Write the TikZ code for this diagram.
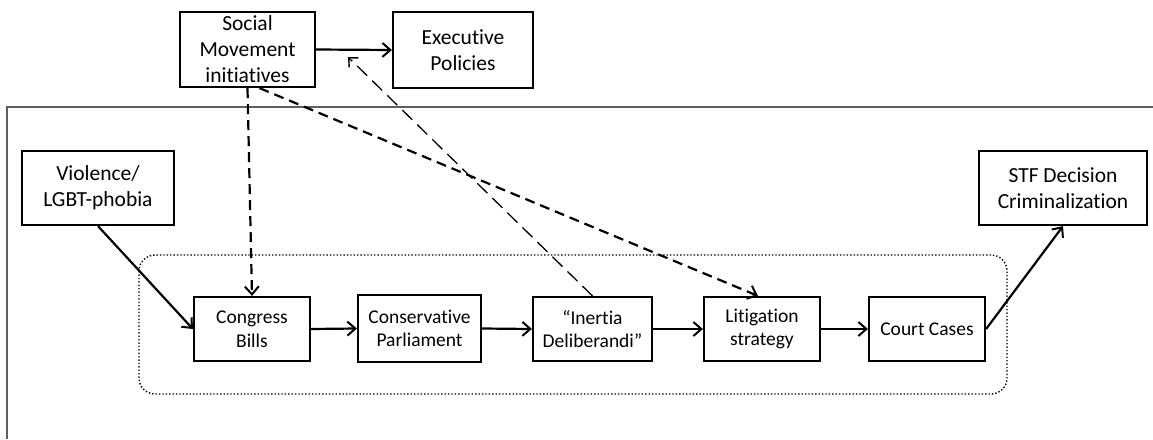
\documentclass[tikz,border=0pt]{standalone}
\usepackage{fontspec}
\setmainfont{Carlito}[Ligatures={NoCommon}]
\usetikzlibrary{arrows.meta}
\definecolor{framegray}{RGB}{95,95,95}
\tikzset{
  box/.style={draw=black, line width=2.2pt, rectangle, align=center, inner sep=0pt},
  big/.style={box, font=\fontsize{21.5}{26}\selectfont},
  small/.style={box, font=\fontsize{19.5}{23.5}\selectfont},
  arr/.style={line width=2.2pt, -{Straight Barb[length=8pt,width=14pt,line width=2pt]}},
  darr/.style={arr, dash pattern=on 10pt off 6pt},
  tarr/.style={line width=1.3pt, dash pattern=on 14pt off 7pt, -{Straight Barb[length=7pt,width=13pt,line width=1.4pt]}},
  frameline/.style={draw=framegray, line width=1.5pt},
  group/.style={draw=black, line width=1.4pt, dotted, rounded corners=16pt}
}
\begin{document}
\begin{tikzpicture}[x=1pt,y=-1pt]
\useasboundingbox (0,0) rectangle (1153,439);
\draw[frameline] (1153,107) -- (7,107) -- (7,439);
\draw[group] (139,255) rectangle (1007,394);

\node[big, minimum width=135pt, minimum height=75pt] (SM) at (247.5,49.5) {Social\\Movement\\initiatives};
\node[big, minimum width=140pt, minimum height=76pt] (EP) at (463,50) {Executive\\Policies};
\node[big, minimum width=152pt, minimum height=74pt] (VI) at (98,188) {Violence/\\LGBT-phobia};
\node[big, minimum width=168pt, minimum height=74pt] (STF) at (1063,188) {STF Decision\\Criminalization};

\node[small, minimum width=116pt, minimum height=64pt] (CB) at (252,329) {Congress\\Bills};
\node[small, minimum width=123pt, minimum height=67pt] (CP) at (419.5,328.5) {Conservative\\Parliament};
\node[small, minimum width=119pt, minimum height=64pt] (IN) at (592.5,329) {“Inertia\\Deliberandi”};
\node[small, minimum width=116pt, minimum height=64pt] (LS) at (762,329) {Litigation\\strategy};
\node[small, minimum width=116pt, minimum height=64pt] (CC) at (927,329) {Court Cases};

\coordinate (T) at (348,57);

\draw[arr] (SM.east) -- (EP.west);
\draw[arr] (VI.south) -- (CB.west);
\draw[arr] (CB.east) -- (CP.west);
\draw[arr] (CP.east) -- (IN.west);
\draw[arr] (IN.east) -- (LS.west);
\draw[arr] (LS.east) -- (CC.west);
\draw[arr] (CC.east) -- (STF.south);
\draw[darr] (SM.south) -- (CB.north);
\draw[darr] ([xshift=12pt]SM.south) -- ([xshift=-4pt]LS.north);
\draw[tarr] (IN.north) -- (T);
\end{tikzpicture}
\end{document}
